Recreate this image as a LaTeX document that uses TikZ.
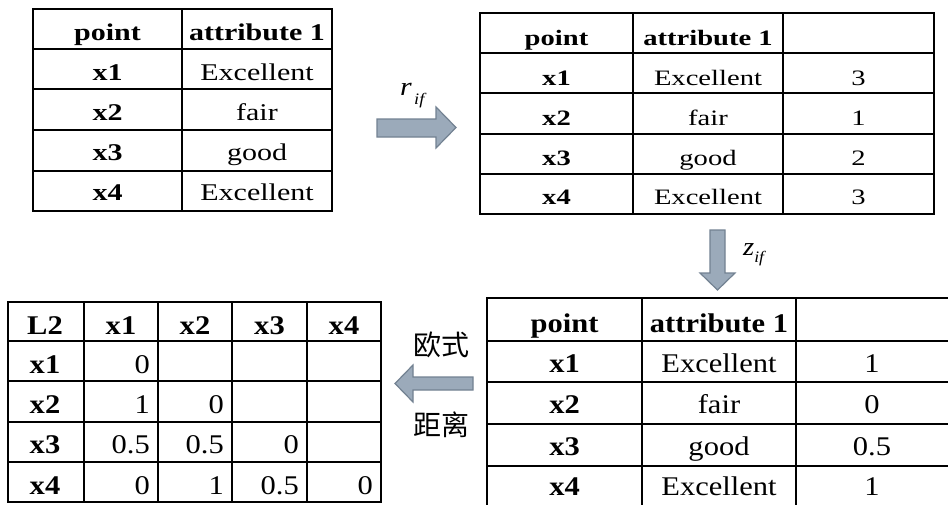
\documentclass[tikz,border=0pt]{standalone}
\usepackage{fontspec}
\setmainfont{Liberation Serif}
\newfontfamily\cjk{Noto Sans CJK SC}
\usepackage{graphicx}
\definecolor{arrfill}{RGB}{155,170,186}
\definecolor{arrline}{RGB}{115,130,146}
\newcommand\tx[5][base]{\node[anchor=#1, inner sep=0pt, font=\curfont] (#2) at (#3,#4) {\scalebox{\cursx}[1]{#5}};}
\begin{document}
\begin{tikzpicture}[x=1pt,y=-1pt,
  gridline/.style={line width=2pt, black},
  blockarrow/.style={fill=arrfill, draw=arrline, line width=1.2pt, line join=miter},
  lbl/.style={inner sep=0pt, anchor=base west}]
\useasboundingbox (0,0) rectangle (948,504);
\fill[white] (0,0) rectangle (948,504);

% ---------- table 1 (top left) ----------
\def\curfont{\fontsize{24}{24}\selectfont}\def\cursx{1.25}
\draw[gridline] (33,9) rectangle (332,211);
\draw[gridline] (182,9) -- (182,211);
\foreach \y in {49,89,130,171} \draw[gridline] (33,\y) -- (332,\y);
\tx{a-h1}{107.5}{40}{\bfseries point}
\tx{a-h2}{257}{40}{\bfseries attribute 1}
\tx{a-p1}{107.5}{80}{\bfseries x1}
\tx{a-v1}{257}{80}{Excellent}
\tx{a-p2}{107.5}{120}{\bfseries x2}
\tx{a-v2}{257}{120}{fair}
\tx{a-p3}{107.5}{160}{\bfseries x3}
\tx{a-v3}{257}{160}{good}
\tx{a-p4}{107.5}{200}{\bfseries x4}
\tx{a-v4}{257}{200}{Excellent}

% ---------- table 2 (top right) ----------
\def\curfont{\fontsize{22}{22}\selectfont}\def\cursx{1.3}
\draw[gridline] (480,13) rectangle (934,214);
\draw[gridline] (633,13) -- (633,214);
\draw[gridline] (783,13) -- (783,214);
\foreach \y in {53,93,134,174} \draw[gridline] (480,\y) -- (934,\y);
\tx{b-h1}{556.5}{45}{\bfseries point}
\tx{b-h2}{708}{45}{\bfseries attribute 1}
\tx{b-p1}{556.5}{85.5}{\bfseries x1}
\tx{b-v1}{708}{85.5}{Excellent}
\tx{b-r1}{858.5}{85.5}{3}
\tx{b-p2}{556.5}{125}{\bfseries x2}
\tx{b-v2}{708}{125}{fair}
\tx{b-r2}{858.5}{125}{1}
\tx{b-p3}{556.5}{165}{\bfseries x3}
\tx{b-v3}{708}{165}{good}
\tx{b-r3}{858.5}{165}{2}
\tx{b-p4}{556.5}{204}{\bfseries x4}
\tx{b-v4}{708}{204}{Excellent}
\tx{b-r4}{858.5}{204}{3}

% ---------- table 3 (bottom right) ----------
\def\curfont{\fontsize{27}{27}\selectfont}\def\cursx{1.13}
\draw[gridline] (487,298) rectangle (960,512);
\draw[gridline] (642,298) -- (642,512);
\draw[gridline] (796,298) -- (796,512);
\foreach \y in {341,382,424,466} \draw[gridline] (487,\y) -- (960,\y);
\tx{c-h1}{564.5}{332}{\bfseries point}
\tx{c-h2}{719}{332}{\bfseries attribute 1}
\tx{c-p1}{564.5}{372}{\bfseries x1}
\tx{c-v1}{719}{372}{Excellent}
\tx{c-r1}{872}{372}{1}
\tx{c-p2}{564.5}{413}{\bfseries x2}
\tx{c-v2}{719}{413}{fair}
\tx{c-r2}{872}{413}{0}
\tx{c-p3}{564.5}{455}{\bfseries x3}
\tx{c-v3}{719}{455}{good}
\tx{c-r3}{872}{455}{0.5}
\tx{c-p4}{564.5}{495}{\bfseries x4}
\tx{c-v4}{719}{495}{Excellent}
\tx{c-r4}{872}{495}{1}

% ---------- table 4 (bottom left) ----------
\def\curfont{\fontsize{27}{27}\selectfont}\def\cursx{1.13}
\draw[gridline] (8,302) rectangle (381,502);
\foreach \x in {84,158,232,307} \draw[gridline] (\x,302) -- (\x,502);
\foreach \y in {341,381,422,462} \draw[gridline] (8,\y) -- (381,\y);
\tx{d-h0}{45}{334}{\bfseries L2}
\tx{d-h1}{121}{334}{\bfseries x1}
\tx{d-h2}{195}{334}{\bfseries x2}
\tx{d-h3}{269.5}{334}{\bfseries x3}
\tx{d-h4}{344}{334}{\bfseries x4}
\tx{d-p1}{45}{373}{\bfseries x1}
\tx{d-p2}{45}{413}{\bfseries x2}
\tx{d-p3}{45}{453}{\bfseries x3}
\tx{d-p4}{45}{494}{\bfseries x4}
\tx[base east]{d-11}{150}{373}{0}
\tx[base east]{d-21}{150}{413}{1}
\tx[base east]{d-22}{224}{413}{0}
\tx[base east]{d-31}{150}{453}{0.5}
\tx[base east]{d-32}{224}{453}{0.5}
\tx[base east]{d-33}{299}{453}{0}
\tx[base east]{d-41}{150}{494}{0}
\tx[base east]{d-42}{224}{494}{1}
\tx[base east]{d-43}{299}{494}{0.5}
\tx[base east]{d-44}{373}{494}{0}

% ---------- block arrows ----------
\draw[blockarrow] (377,119) -- (436,119) -- (436,107) -- (456,127.5) -- (436,148) -- (436,137) -- (377,137) -- cycle;
\draw[blockarrow] (710,230) -- (725,230) -- (725,273) -- (735,273) -- (717.5,290) -- (700,273) -- (710,273) -- cycle;
\draw[blockarrow] (473,377) -- (413,377) -- (413,365) -- (395,383.5) -- (413,402) -- (413,390) -- (473,390) -- cycle;

% ---------- labels ----------
\node[lbl] (rif) at (400,95) {\fontsize{26}{26}\selectfont\scalebox{1.15}[1]{\textit{r}\kern2pt\raisebox{-9pt}{\fontsize{16}{16}\selectfont\textit{if}}}};
\node[lbl] (zif) at (743,255) {\fontsize{26}{26}\selectfont\scalebox{1.1}[1]{\textit{z}\raisebox{-7pt}{\fontsize{16}{16}\selectfont\textit{if}}}};
\node[inner sep=0pt, font=\cjk\fontsize{28}{28}\selectfont] (ou) at (441,345) {欧式};
\node[inner sep=0pt, font=\cjk\fontsize{28}{28}\selectfont] (juli) at (441,425) {距离};
\end{tikzpicture}
\end{document}
